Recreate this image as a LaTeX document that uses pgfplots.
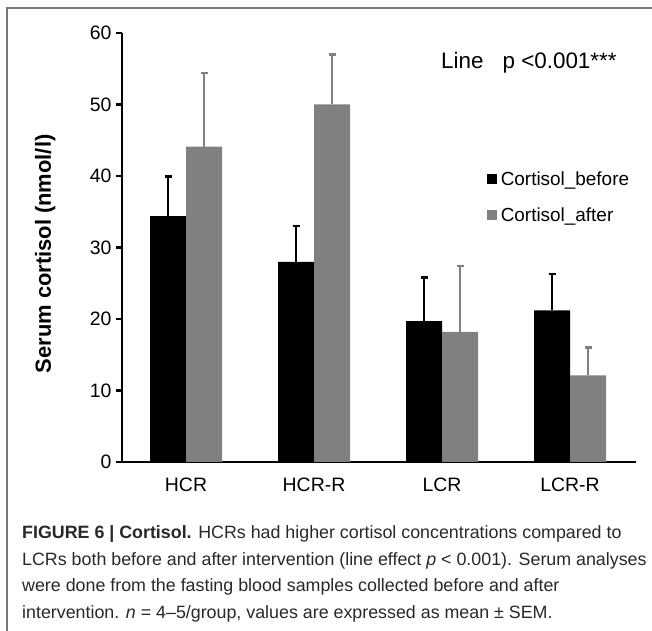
\documentclass[border=0pt]{standalone}
\usepackage{pgfplots}
\pgfplotsset{compat=1.18}
\usepackage{fontspec}
\setmainfont{Liberation Sans}
\newfontfamily\capfont{Liberation Sans}
\definecolor{barblack}{RGB}{0,0,0}
\definecolor{bargray}{RGB}{128,128,128}
\definecolor{framegray}{RGB}{120,120,120}
\definecolor{captext}{RGB}{40,40,40}

\begin{document}
\begin{tikzpicture}[x=1bp,y=1bp]
\path[use as bounding box] (0,0) rectangle (652,631);
% outer frame (top and left edges only)
\draw[framegray, line width=1.5bp] (7,0) -- (7,623) -- (652,623);

\begin{axis}[
    at={(122bp,169bp)}, anchor=south west,
    scale only axis,
    width=512bp, height=429bp,
    xmin=-0.5, xmax=3.5,
    ymin=0, ymax=60,
    ytick={0,10,...,60},
    xtick={0,1,2,3},
    xticklabels={HCR, HCR-R, LCR, LCR-R},
    axis x line=bottom, axis y line=left,
    axis line style={line width=2.8bp, -},
    x axis line style={shorten >=-2bp},
    major x tick style={draw=none},
    major y tick style={line width=2.2bp, black},
    ytick align=outside, major tick length=6bp,
    tick label style={font=\fontsize{19.5}{20}\selectfont},
    /pgf/number format/assume math mode=true,
    yticklabel style={xshift=-1bp},
    xticklabel style={yshift=-6bp},
    ylabel={\textbf{Serum cortisol (nmol/l)}},
    ylabel style={font=\fontsize{22}{24}\selectfont, at={(axis description cs:-0.150,0.485)}, anchor=center},
    ybar=0pt, bar width=36bp,
    legend style={draw=none, fill=none, at={(axis description cs:0.712,0.68)}, anchor=north west,
        font=\fontsize{19}{20}\selectfont, row sep=19bp, inner sep=0pt,
        nodes={inner sep=1bp}},
    legend cell align=left,
    legend image code/.code={\fill (0bp,-5bp) rectangle (10bp,5bp);},
]
\addplot[fill=barblack, draw=none,
    error bars/.cd, y dir=plus, y explicit,
    error bar style={line width=2bp, barblack},
    error mark options={rotate=90, mark size=3.5bp, line width=2.5bp, barblack}]
    coordinates {
    (0,34.4) +- (0,5.5)
    (1,28.0) +- (0,5.0)
    (2,19.7) +- (0,6.1)
    (3,21.2) +- (0,5.1)
};
\addplot[fill=bargray, draw=none,
    error bars/.cd, y dir=plus, y explicit,
    error bar style={line width=2bp, bargray},
    error mark options={rotate=90, mark size=3.5bp, line width=2.5bp, bargray}]
    coordinates {
    (0,44.1) +- (0,10.3)
    (1,50.0) +- (0,7.0)
    (2,18.2) +- (0,9.2)
    (3,12.1) +- (0,3.9)
};
\legend{\hspace{3bp}Cortisol\_before, \hspace{3bp}Cortisol\_after}
\node[anchor=base west, inner sep=0pt, font=\fontsize{22.5}{24}\selectfont] at (axis description cs:0.623,0.918) {Line\hspace{0.85em}p <0.001***};
\end{axis}

% caption
\begin{scope}[every node/.style={anchor=base west, inner sep=0pt, text=captext,
    font=\capfont\fontsize{17.9}{20}\selectfont}]
\node at (22,631-539) {\textbf{FIGURE 6 | Cortisol.} HCRs had higher cortisol concentrations compared to};
\node at (22,631-566) {LCRs both before and after intervention (line effect \textit{p} < 0.001). Serum analyses};
\node at (22,631-592) {were done from the fasting blood samples collected before and after};
\node at (22,631-619) {intervention. \textit{n} = 4–5/group, values are expressed as mean ± SEM.};
\end{scope}
\end{tikzpicture}
\end{document}
